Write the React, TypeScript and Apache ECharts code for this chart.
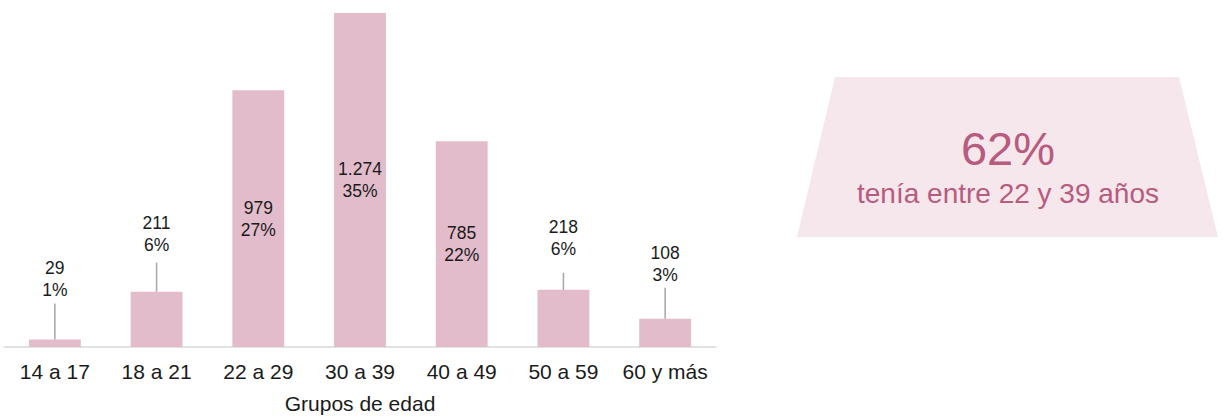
import React, { useEffect, useRef } from "react";
import * as echarts from "echarts";

const categories = ["14 a 17", "18 a 21", "22 a 29", "30 a 39", "40 a 49", "50 a 59", "60 y más"];
const counts = [29, 211, 979, 1274, 785, 218, 108];
const percents = ["1%", "6%", "27%", "35%", "22%", "6%", "3%"];
const insideLabel = [false, false, true, true, true, false, false];
const axisTitle = "Grupos de edad";
const calloutValue = "62%";
const calloutText = "tenía entre 22 y 39 años";

// styling (not data)
const labelDistances = [38, 36, 0, 0, 0, 30, 33];
const leaderLengths = [36, 29, 0, 0, 0, 17, 31];

const FONT = "'Liberation Sans', Arial, sans-serif";

function fmt(n: number): string {
  return String(n).replace(/\B(?=(\d{3})+(?!\d))/g, ".");
}

export default function App() {
  const ref = useRef<HTMLDivElement>(null);
  useEffect(() => {
    if (!ref.current) return;
    const chart = echarts.init(ref.current, undefined, { renderer: "svg" });
    const barData = counts.map((v, i) => ({
      value: v,
      label: insideLabel[i]
        ? { show: true, position: "inside" as const }
        : { show: true, position: "top" as const, distance: labelDistances[i] },
    }));
    chart.setOption({
      animation: false,
      textStyle: { fontFamily: FONT },
      grid: { left: 4, right: 507, top: 13, bottom: 69, containLabel: false, outerBoundsMode: "none" },
      xAxis: {
        type: "category",
        data: categories,
        axisTick: { show: false },
        axisLine: { lineStyle: { color: "#d9d9d9", width: 1.5 } },
        axisLabel: { color: "#1a1a1a", fontSize: 21, margin: 14, fontFamily: FONT, interval: 0, hideOverlap: false },
        name: axisTitle,
        nameLocation: "middle",
        nameGap: 46,
        nameTextStyle: { color: "#1a1a1a", fontSize: 21, fontFamily: FONT },
      },
      yAxis: {
        type: "value",
        min: 0,
        max: 1274,
        show: false,
        splitLine: { show: false },
      },
      series: [
        {
          type: "bar",
          data: barData,
          barWidth: "51%",
          itemStyle: { color: "#e3bccb" },
          label: {
            show: true,
            color: "#1a1a1a",
            fontSize: 17.5,
            lineHeight: 22,
            fontFamily: FONT,
            formatter: (p: any) => `${fmt(counts[p.dataIndex])}\n${percents[p.dataIndex]}`,
          },
          z: 2,
        },
        {
          type: "custom",
          data: counts.map((v, i) => [i, v]),
          z: 3,
          silent: true,
          renderItem: (params: any, api: any) => {
            const i = params.dataIndex;
            const len = leaderLengths[i];
            if (!len) return { type: "group", children: [] };
            const pt = api.coord([api.value(0), api.value(1)]);
            return {
              type: "line",
              shape: { x1: pt[0], y1: pt[1], x2: pt[0], y2: pt[1] - len },
              style: { stroke: "#a6a6a6", lineWidth: 1.5 },
            };
          },
        },
      ],
      graphic: [
        {
          type: "polygon",
          shape: { points: [[835, 77], [1179, 77], [1218, 237], [797, 237]] },
          style: { fill: "#f5e7ec" },
          z: 0,
        },
        {
          type: "text",
          x: 1008,
          y: 148,
          style: {
            text: calloutValue,
            fill: "#b85b7e",
            font: `47px ${FONT}`,
            align: "center",
            verticalAlign: "middle",
          },
          z: 1,
        },
        {
          type: "text",
          x: 1008,
          y: 193,
          style: {
            text: calloutText,
            fill: "#b85b7e",
            font: `28px ${FONT}`,
            align: "center",
            verticalAlign: "middle",
          },
          z: 1,
        },
      ],
    });
    return () => chart.dispose();
  }, []);
  return (
    <div
      ref={ref}
      style={{ position: "fixed", left: 0, top: 0, width: 1223, height: 416, background: "#fff" }}
    />
  );
}
